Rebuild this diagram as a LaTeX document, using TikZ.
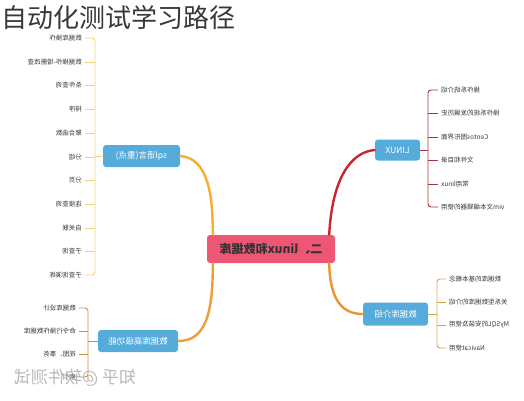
\documentclass[tikz,border=0pt]{standalone}
\usepackage{fontspec}
\setmainfont{Noto Sans CJK SC}
\usetikzlibrary{calc}
\definecolor{topicblue}{HTML}{55ACDB}
\definecolor{rootpink}{HTML}{EE5676}
\definecolor{sqlcol}{HTML}{F4B02C}
\definecolor{sqlbrc}{HTML}{F0D27C}
\definecolor{linuxcol}{HTML}{C92430}
\definecolor{linuxbrc}{HTML}{A8323A}
\definecolor{introcol}{HTML}{F0932C}
\definecolor{introbrc}{HTML}{D8A54A}
\definecolor{advcol}{HTML}{EE9E34}
\definecolor{advbrc}{HTML}{C99245}
\newcommand\mir[1]{\reflectbox{#1}}
\begin{document}
\begin{tikzpicture}[x=1pt,y=-1pt,
  item/.style={font=\fontsize{6.5}{7}\selectfont, text=black!78, inner xsep=3pt, inner ysep=1pt},
  itemL/.style={item, anchor=east},
  itemR/.style={item, anchor=west},
  topic/.style={fill=topicblue, rounded corners=3pt, text=white, font=\fontsize{8.5}{10}\selectfont, inner sep=0pt},
  rootbox/.style={fill=rootpink, rounded corners=3pt, text=black!80, font=\bfseries\fontsize{12}{14}\selectfont, inner sep=0pt, minimum width=128pt, minimum height=28pt},
  branch/.style={line width=2.4pt, line cap=round},
  brk/.style={line width=0.9pt, rounded corners=3pt}
]
\useasboundingbox (0,0) rectangle (524,400);

% title
\node[anchor=north west, font=\fontsize{26}{28}\selectfont, text=black!78, inner sep=0pt] (title) at (1,5) {自动化测试学习路径};

% root and topics
\node[rootbox] (root) at (271,249) {\mir{二、linux和数据库}};
\node[topic, minimum width=77pt, minimum height=22pt] (sql) at (141.5,156) {\mir{sql语言(重点)}};
\node[topic, minimum width=45pt, minimum height=21pt] (linux) at (397.5,150) {\mir{LINUX}};
\node[topic, minimum width=65pt, minimum height=23pt] (intro) at (395.5,314) {\mir{数据库介绍}};
\node[topic, minimum width=80pt, minimum height=22pt] (adv) at (138,341) {\mir{数据库高级功能}};

% branches
\coordinate (rTL) at ($(root.north west)+(6,0)$);
\coordinate (rBL) at ($(root.south west)+(6,0)$);
\coordinate (rTR) at ($(root.north east)+(-6,0)$);
\coordinate (rBR) at ($(root.south east)+(-6,0)$);
\draw[branch, sqlcol] (rTL) .. controls (213,195) and (208,158) .. (sql.east);
\draw[branch, advcol] (rBL) .. controls (213,315) and (205,341) .. (adv.east);
\draw[branch, linuxcol] (rTR) .. controls (332,180) and (350,152) .. (linux.west);
\draw[branch, introcol] (rBR) .. controls (330,300) and (342,314) .. (intro.west);

% sql items
\foreach \n/\y/\t in {1/38/数据库操作, 2/62/数据操作-增删改查, 3/85/条件查询, 4/109/排序, 5/133/聚合函数, 6/157/分组, 7/180/分页, 8/204/连接查询, 9/228/自关联, 10/251/子查询, 11/275/子查询演练}
  \node[itemL] (s\n) at (85,\y) {\mir{\t}};
\coordinate (sb) at (95,157);
\draw[brk, sqlbrc] (s1.east) -| (sb) |- (s11.east);
\foreach \n in {2,...,10} \draw[brk, sqlbrc] (s\n.east) -- (s\n.east -| sb);
\draw[brk, sqlbrc] (sql.west) -- (sb);

% linux items
\foreach \n/\y/\t in {1/90/操作系统介绍, 2/113/操作系统的发展历史, 3/137/Centos图形界面, 4/160/文件和目录, 5/184/常用linux, 6/207/vim文本编辑器的使用}
  \node[itemR] (l\n) at (438,\y) {\mir{\t}};
\coordinate (lb) at (428,150);
\draw[brk, linuxbrc] (l1.west) -| (lb) |- (l6.west);
\foreach \n in {2,...,5} \draw[brk, linuxbrc] (l\n.west) -- (l\n.west -| lb);
\draw[brk, linuxbrc] (linux.east) -- (lb);

% intro items
\foreach \n/\y/\t in {1/279/数据库的基本概念, 2/302/关系型数据库的介绍, 3/325/MySQL的安装及使用, 4/348/Navicat使用}
  \node[itemR] (i\n) at (446,\y) {\mir{\t}};
\coordinate (ib) at (437,314);
\draw[brk, introbrc] (i1.west) -| (ib) |- (i4.west);
\foreach \n in {2,3} \draw[brk, introbrc] (i\n.west) -- (i\n.west -| ib);
\draw[brk, introbrc] (intro.east) -- (ib);

% advanced items
\foreach \n/\y/\t in {1/308/数据库设计, 2/331/命令行操作数据库, 3/354/视图、事务, 4/377/索引}
  \node[itemL] (a\n) at (79,\y) {\mir{\t}};
\coordinate (ab) at (88,341);
\draw[brk, advbrc] (a1.east) -| (ab) |- (a4.east);
\foreach \n in {2,3} \draw[brk, advbrc] (a\n.east) -- (a\n.east -| ab);
\draw[brk, advbrc] (adv.west) -- (ab);

% watermark
\node[font=\fontsize{17}{18}\selectfont, text=black!35, opacity=0.8, inner sep=0pt] (wm) at (75,378) {\mir{知乎 @软件测试}};
\end{tikzpicture}
\end{document}
